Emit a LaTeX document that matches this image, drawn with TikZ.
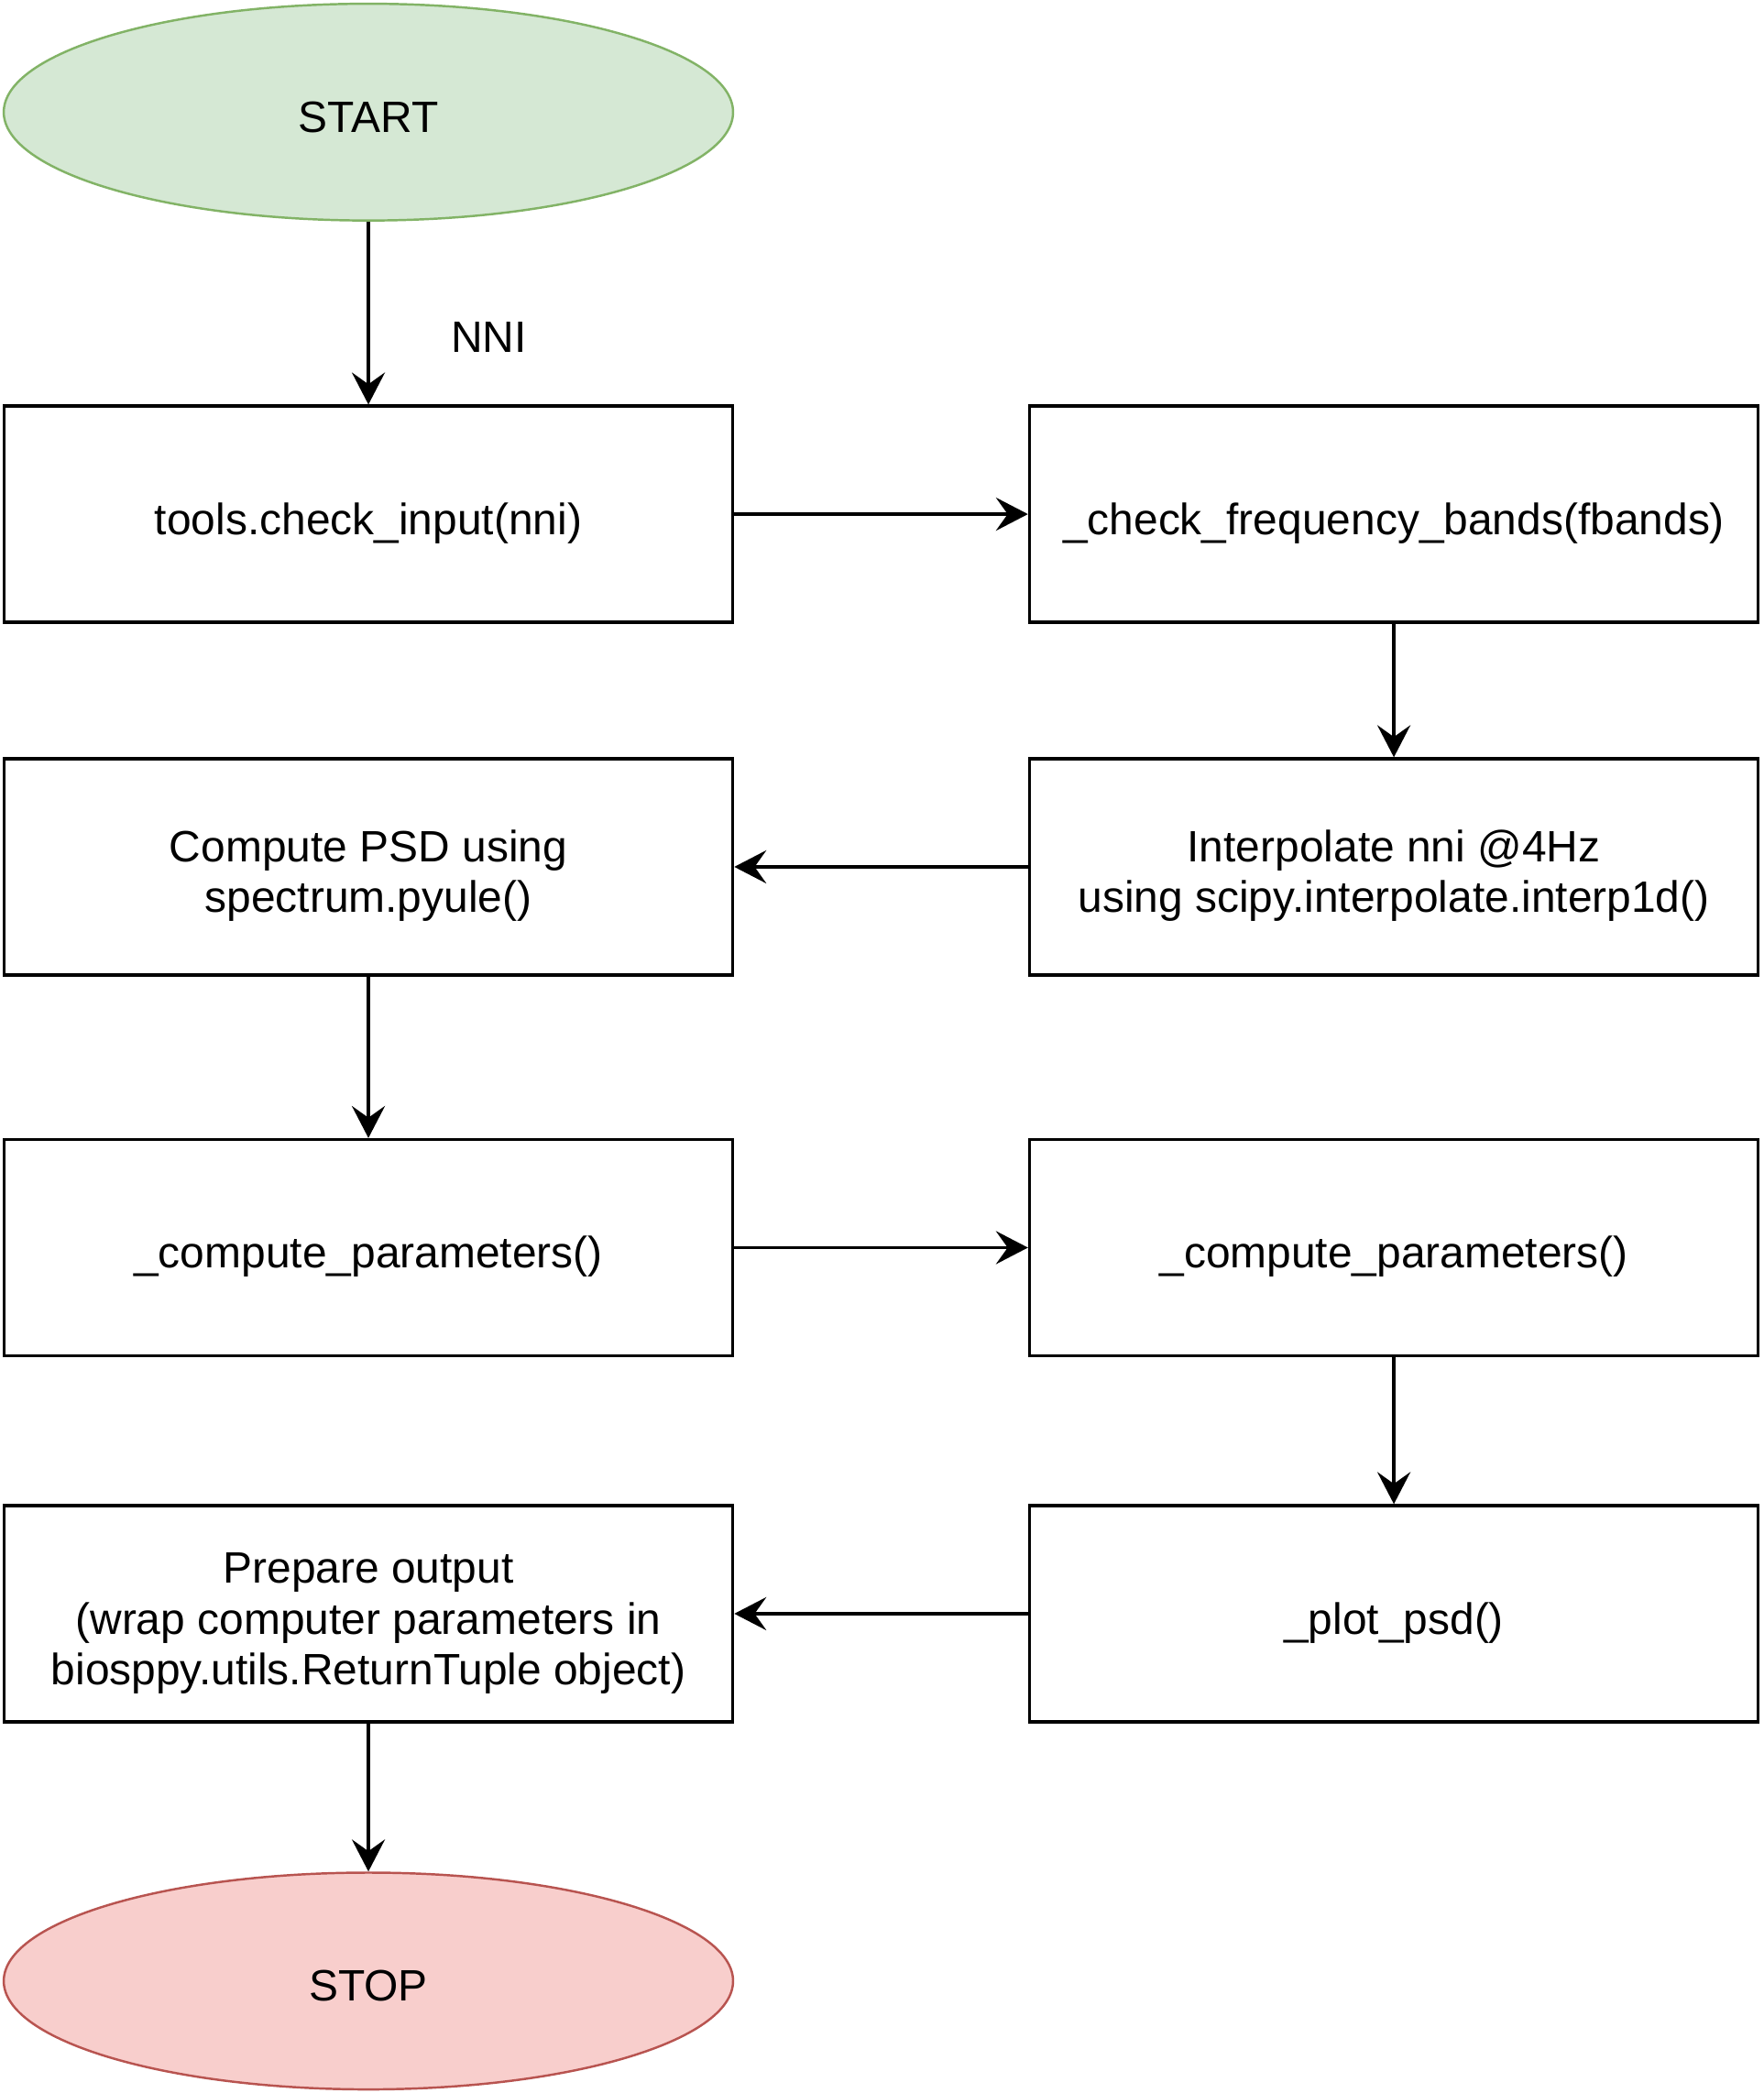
\documentclass[tikz,border=0pt]{standalone}
\usepackage{fontspec}
\setmainfont{Liberation Sans}
\usepackage{tikz}
\usetikzlibrary{arrows.meta, positioning, shapes.geometric}

\definecolor{startfill}{HTML}{D5E8D4}
\definecolor{startline}{HTML}{82B366}
\definecolor{stopfill}{HTML}{F8CECC}
\definecolor{stopline}{HTML}{B85450}

% taller first line, so the text sits a bit low in its box
\newcommand{\lift}{\rule{0pt}{26.5pt}}

\tikzset{
    terminal/.style={ellipse, draw, line width=1.2pt, minimum width=13.66cm, minimum height=4.06cm, inner sep=0pt,
        execute at begin node={\rule{0pt}{21.5pt}}},
    block/.style={rectangle, draw, line width=1.6pt, minimum width=13.65cm, minimum height=4.05cm, align=center, inner sep=0pt},
    flow/.style={-{Stealth[length=0.6cm, width=0.62cm, inset=0.22cm]}, line width=1.6pt},
}

\begin{document}
\begin{tikzpicture}[auto, node distance=5.5cm, font=\fontsize{23.4}{27}\selectfont]
        \useasboundingbox (0,0) rectangle (33.025,-39.2);
        \node[terminal, fill=startfill, draw=startline] (start) at (6.9,-2.1) {START};
        \node[block] (check) [below=3.425cm of start] {\lift tools.check\_input(nni)};
        \node[block] (bands) [right=of check] {\lift\_check\_frequency\_bands(fbands)};
        \node[block] (interp) [below=2.5cm of bands] {\lift Interpolate nni @4Hz\\using scipy.interpolate.interp1d()};
        \node[block] (psd) [left=of interp] {\lift Compute PSD using\\spectrum.pyule()};
        \node[block] (paramsl) [below=3.025cm of psd] {\lift\_compute\_parameters()};
        \node[block] (paramsr) [right=of paramsl] {\lift\_compute\_parameters()};
        \node[block] (plot) [below=2.75cm of paramsr] {\lift\_plot\_psd()};
        \node[block] (output) [left=of plot] {\lift Prepare output\\(wrap computer parameters in\\biosppy.utils.ReturnTuple object)};
        \node[terminal, fill=stopfill, draw=stopline] (stop) [below=2.775cm of output] {STOP};

        \path[flow] (start)
            edge node [pos=0.63, xshift=1.4cm] {NNI} (check);
        \path[flow] (check) edge (bands);
        \path[flow] (bands) edge (interp);
        \path[flow] (interp) edge (psd);
        \path[flow] (psd) edge (paramsl);
        \path[flow] (paramsl) edge (paramsr);
        \path[flow] (paramsr) edge (plot);
        \path[flow] (plot) edge (output);
        \path[flow] (output) edge (stop);
    \end{tikzpicture}
\end{document}
